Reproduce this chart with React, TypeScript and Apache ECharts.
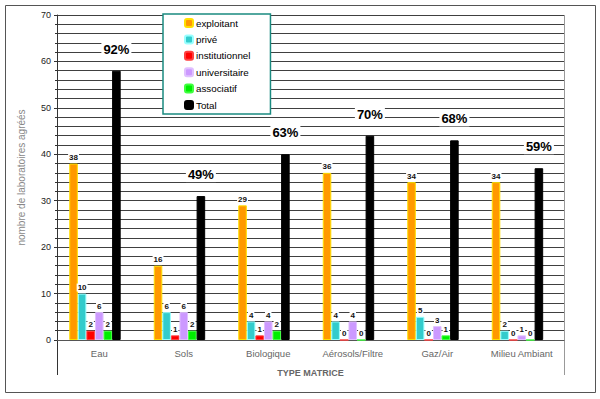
import React, { useEffect, useRef } from "react";
import * as echarts from "echarts";

const categories = ["Eau", "Sols", "Biologique", "Aérosols/Filtre", "Gaz/Air", "Milieu Ambiant"];
const exploitant = [38, 16, 29, 36, 34, 34];
const prive = [10, 6, 4, 4, 5, 2];
const institutionnel = [2, 1, 1, 0, 0, 0];
const universitaire = [6, 6, 4, 4, 3, 1];
const associatif = [2, 2, 2, 0, 1, 0];
const total = [58, 31, 40, 44, 43, 37];
const percents = [92, 49, 63, 70, 68, 59];
const spacer = [0, 0, 0, 0, 0, 0];

const FONT = "Liberation Sans, Arial, sans-serif";

export default function App() {
  const ref = useRef<HTMLDivElement>(null);
  useEffect(() => {
    if (!ref.current) return;
    const chart = echarts.init(ref.current, null, { renderer: "svg" });
    const smallLabel = {
      show: true,
      position: "top",
      distance: 2,
      fontSize: 8,
      fontWeight: "bold",
      color: "#111",
      fontFamily: FONT,
      backgroundColor: "#fff",
      padding: [0, 1],
    };
    const mk = (name: string, data: number[], color: string, border: string, label: any) => ({
      name,
      type: "bar",
      data,
      barGap: "0%",
      barCategoryGap: "29%",
      itemStyle: { color, borderColor: border, borderWidth: 1 },
      label,
    });
    chart.setOption({
      animation: false,
      backgroundColor: "#fff",
      textStyle: { fontFamily: FONT },
      grid: { left: 57, right: 36, top: 15, bottom: 59 },
      legend: {
        orient: "vertical",
        left: 163,
        top: 14,
        itemWidth: 8,
        itemHeight: 8,
        itemGap: 4.4,
        padding: [3, 20, 3, 21],
        borderColor: "#1a8a80",
        borderWidth: 1.5,
        backgroundColor: "#fff",
        textStyle: { fontSize: 9.8, lineHeight: 12, color: "#000", fontFamily: FONT, padding: [0, 0, 0, -2] },
        data: ["exploitant", "privé", "institutionnel", "universitaire", "associatif", "Total"],
      },
      xAxis: {
        type: "category",
        data: categories,
        name: "TYPE MATRICE",
        nameLocation: "middle",
        nameGap: 28,
        nameTextStyle: { fontSize: 9, color: "#666", fontWeight: "bold", fontFamily: FONT },
        axisLine: { show: true, lineStyle: { color: "#555", width: 1 } },
        axisTick: { show: false },
        axisLabel: { fontSize: 9.5, color: "#666", margin: 8, fontFamily: FONT },
      },
      yAxis: {
        type: "value",
        min: 0,
        max: 70,
        interval: 10,
        name: "nombre de laboratoires agréés",
        nameLocation: "middle",
        nameGap: 31,
        nameTextStyle: { fontSize: 10, color: "#888", fontFamily: FONT },
        axisLine: { show: true, lineStyle: { color: "#333" } },
        axisTick: { show: true, length: 3, lineStyle: { color: "#333" } },
        minorTick: { show: true, splitNumber: 5, length: 2, lineStyle: { color: "#333" } },
        axisLabel: { fontSize: 9, color: "#222", margin: 6, fontFamily: FONT },
        splitLine: { show: true, lineStyle: { color: "#404040", width: 1 } },
        minorSplitLine: { show: true, lineStyle: { color: "#404040", width: 1 } },
      },
      series: [
        mk("exploitant", exploitant, "#FF9900", "#FFE000", smallLabel),
        mk("privé", prive, "#33CCCC", "#99FFFF", smallLabel),
        mk("institutionnel", institutionnel, "#FF0000", "#FF4040", smallLabel),
        mk("universitaire", universitaire, "#CC99FF", "#E0C0FF", smallLabel),
        mk("associatif", associatif, "#00EE00", "#40FF40", smallLabel),
        mk("Total", total, "#000000", "#000000", {
          show: true,
          position: "top",
          distance: 14,
          fontSize: 13,
          fontWeight: "bold",
          color: "#000",
          fontFamily: FONT,
          backgroundColor: "#fff",
          padding: [1, 2],
          formatter: (p: any) => percents[p.dataIndex] + "%",
        }),
        {
          name: "_spacer",
          type: "bar",
          data: spacer,
          barGap: "0%",
          barCategoryGap: "29%",
          itemStyle: { color: "rgba(0,0,0,0)", borderWidth: 0 },
          label: { show: false },
          silent: true,
        },
      ],
      graphic: [
        {
          type: "rect",
          shape: { x: 5.5, y: 5.5, width: 590, height: 387 },
          style: { fill: "none", stroke: "#555", lineWidth: 1 },
          silent: true,
        },
        {
          type: "line",
          shape: { x1: 57.5, y1: 340, x2: 57.5, y2: 375 },
          style: { stroke: "#333", lineWidth: 1 },
          silent: true,
        },
        {
          type: "line",
          shape: { x1: 564.5, y1: 15, x2: 564.5, y2: 375 },
          style: { stroke: "#999", lineWidth: 1 },
          silent: true,
        },
      ],
    });
    return () => chart.dispose();
  }, []);
  return (
    <div
      ref={ref}
      style={{ position: "fixed", left: 0, top: 0, width: 600, height: 399 }}
    />
  );
}
